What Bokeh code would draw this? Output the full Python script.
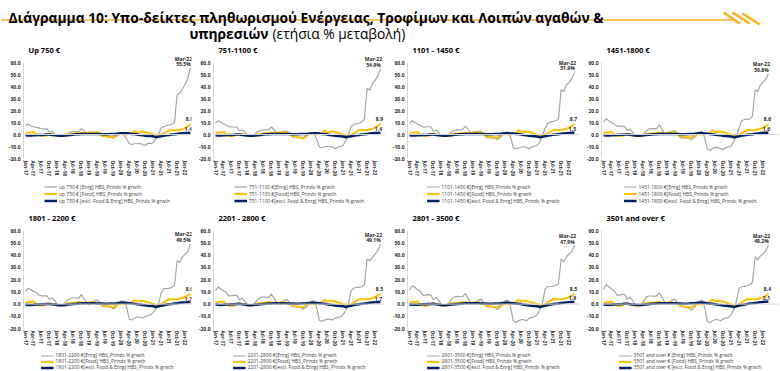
from bokeh.plotting import figure
from bokeh.models import Range1d, FixedTicker, NumeralTickFormatter, Legend, LegendItem, Label, Span
from bokeh.layouts import column, row
from bokeh.embed import file_html
from bokeh.resources import INLINE

# ---------------- data ----------------
tick_labels = ["Jan-17", "Apr-17", "Jul-17", "Oct-17", "Jan-18", "Apr-18", "Jul-18", "Oct-18",
               "Jan-19", "Apr-19", "Jul-19", "Oct-19", "Jan-20", "Apr-20", "Jul-20", "Oct-20",
               "Jan-21", "Apr-21", "Jul-21", "Oct-21", "Jan-22"]
last_month = "Mar-22"
y_ticks = [-20, -10, 0, 10, 20, 30, 40, 50, 60]
y_min, y_max = -20, 60

panel_titles = ["Up 750 €", "751-1100 €", "1101 - 1450 €", "1451-1800 €",
                "1801 - 2200 €", "2201 - 2800 €", "2801 - 3500 €", "3501 and over €"]
legend_prefixes = ["up 750 € ", "751-1100 €", "1101-1450 €", "1451-1800 €",
                   "1801-2200 €", "2201-2800 €", "2801-3500 €", "3501 and over € "]
series_suffixes = ["[Enrg] HBS_Prindx % grwth", "[Food] HBS_Prindx % grwth",
                   "[excl. Food & Enrg] HBS_Prindx % grwth"]

energy_1 = [7.5, 8.7, 7.4, 6.5, 6.0, 5.5, 5.0, 4.6, 5.0, 2.0, 2.7, 0.5,
            -0.8, -1.4, -1.0, 0.0, 1.0, 2.2, 2.5, 2.5, 2.7, 4.8, 3.3, 1.0,
            0.5, 1.6, 2.0, 2.0, -0.3, -1.6, -1.6, -1.6, -2.2, -3.0, -1.6, -0.3,
            0.5, -0.3, -3.5, -7.7, -8.2, -7.7, -7.7, -7.4, -8.5, -9.0, -7.4, -7.4,
            -6.8, -3.5, 0.5, 5.5, 6.5, 7.4, 8.0, 8.7, 10.0, 33.0, 34.7, 38.0,
            42.0, 47.0, 55.5]
energy_2 = [9.6, 11.6, 10.2, 9.0, 8.0, 6.6, 6.3, 6.3, 6.3, 3.0, 4.0, 2.2,
            -0.5, -1.4, -1.4, 0.8, 2.5, 3.6, 4.0, 4.0, 4.0, 6.5, 4.0, 1.4,
            0.5, 2.2, 3.0, 2.7, 0.0, -2.2, -2.2, -2.2, -2.4, -3.6, -2.0, 0.0,
            1.4, 0.8, -3.6, -10.2, -11.0, -10.2, -10.0, -10.0, -10.5, -11.8, -10.5, -10.0,
            -9.0, -5.0, 0.0, 6.5, 8.3, 9.0, 9.6, 10.5, 13.0, 38.6, 37.2, 42.7,
            45.0, 49.0, 54.9]
energy_3 = [9.3, 11.5, 10.0, 8.7, 8.0, 6.3, 6.3, 6.5, 6.5, 2.7, 3.8, 1.6,
            -1.0, -1.5, -1.5, 0.5, 2.5, 3.8, 4.1, 3.8, 4.4, 7.0, 4.6, 1.0,
            0.0, 1.6, 2.7, 2.7, 0.0, -2.7, -2.7, -2.7, -2.7, -4.4, -2.7, -0.5,
            1.6, 2.0, -2.2, -11.0, -12.0, -11.0, -10.4, -10.0, -11.0, -12.0, -10.4, -9.8,
            -9.0, -6.3, -0.8, 5.5, 9.3, 10.7, 11.0, 11.5, 12.6, 37.4, 36.0, 41.5,
            43.5, 46.5, 51.9]
energy_4 = [10.4, 13.1, 11.5, 10.1, 8.7, 7.1, 7.1, 7.1, 6.5, 3.3, 4.4, 1.9,
            -1.1, -1.6, -1.6, 0.5, 2.7, 4.6, 4.9, 4.9, 4.9, 8.2, 4.4, 0.5,
            0.0, 1.9, 3.0, 3.0, 0.0, -2.7, -2.7, -3.0, -3.0, -4.4, -3.0, -0.5,
            2.2, 2.7, -2.2, -12.0, -13.1, -11.7, -10.7, -10.9, -11.7, -12.6, -10.9, -10.4,
            -9.6, -5.7, -0.8, 6.0, 11.5, 12.6, 12.6, 13.1, 15.5, 37.4, 36.0, 41.5,
            44.0, 46.0, 50.8]
energy_5 = [10.4, 13.0, 11.7, 10.4, 9.6, 7.4, 6.8, 6.8, 6.8, 4.0, 5.0, 2.7,
            -0.8, -1.4, -0.8, 1.4, 3.3, 4.6, 5.2, 5.2, 4.6, 8.0, 4.0, 1.4,
            -0.5, 1.4, 2.7, 3.3, 1.4, -2.2, -2.0, -2.0, -2.0, -4.0, -2.2, 0.5,
            2.7, 2.2, -2.2, -12.3, -13.0, -11.5, -10.4, -11.0, -11.5, -10.0, -9.6, -8.8,
            -6.8, -4.0, 0.0, 9.0, 12.6, 12.6, 13.0, 13.5, 15.0, 35.5, 34.0, 38.5,
            41.0, 43.0, 49.5]
energy_6 = [11.0, 14.2, 12.3, 11.0, 9.6, 6.8, 6.8, 7.1, 7.1, 3.3, 4.9, 2.2,
            -0.5, -1.1, -0.8, 1.4, 4.1, 5.5, 6.0, 5.5, 5.5, 8.2, 4.9, 1.4,
            0.0, 1.9, 3.3, 3.6, 0.5, -2.2, -2.2, -2.2, -2.7, -4.1, -2.7, 0.0,
            2.2, 2.7, -2.2, -13.1, -14.2, -13.1, -12.3, -12.3, -13.1, -11.5, -10.9, -10.4,
            -8.7, -4.9, 0.5, 11.0, 13.1, 13.7, 13.7, 14.2, 15.8, 36.9, 35.5, 38.3,
            41.0, 43.7, 49.1]
energy_7 = [11.5, 15.0, 13.7, 11.7, 10.4, 7.4, 7.4, 7.7, 7.4, 3.8, 5.5, 2.7,
            -0.5, -1.4, -0.8, 1.4, 4.6, 6.0, 6.3, 6.0, 6.0, 8.7, 4.9, 1.4,
            0.0, 1.9, 3.3, 3.8, 0.5, -2.2, -2.2, -2.2, -2.7, -4.4, -2.7, 0.0,
            2.7, 3.3, -2.2, -13.7, -15.0, -13.7, -12.8, -12.8, -13.7, -11.5, -10.9, -10.4,
            -8.7, -4.9, 1.4, 12.3, 14.2, 14.2, 14.8, 15.3, 16.4, 36.9, 34.7, 38.8,
            41.0, 43.2, 47.9]
energy_8 = [12.0, 15.8, 14.2, 12.3, 10.9, 7.4, 7.4, 7.9, 7.6, 4.1, 5.5, 2.7,
            -0.5, -0.8, -0.5, 1.9, 5.5, 6.6, 6.6, 6.3, 6.8, 9.3, 5.5, 1.4,
            0.0, 2.2, 3.6, 3.8, 0.0, -2.2, -2.2, -2.5, -3.3, -4.9, -3.3, 0.0,
            2.2, 3.3, -2.2, -14.2, -15.3, -13.7, -12.8, -12.8, -13.7, -12.3, -11.5, -10.9,
            -8.7, -4.1, 2.7, 13.1, 14.2, 14.5, 15.0, 15.8, 17.8, 38.8, 36.0, 39.6,
            41.0, 43.7, 48.2]

food_1 = [1.5, 1.8, 1.8, 2.0, 0.5, -0.5, -1.0, -1.0, -0.8, 0.0, 0.5, 0.0,
          -1.0, -1.2, -1.0, -0.5, 0.3, 0.5, 0.5, 1.0, 1.0, 1.5, 1.0, 1.0,
          2.0, 2.0, 1.5, 2.0, 0.5, -1.0, -1.5, -2.0, -2.0, -2.0, -0.5, 0.5,
          0.5, 0.5, 0.0, 1.0, 1.0, 3.0, 1.5, 2.0, 2.5, 2.0, 1.5, 1.0,
          0.0, -0.5, -0.5, 0.0, 1.0, 2.0, 3.5, 3.5, 3.5, 3.5, 4.0, 4.5,
          5.5, 7.0, 8.9]
food_2 = [1.5, 1.8, 2.0, 2.0, 0.3, -0.8, -1.2, -1.0, -0.5, 0.2, 0.5, -0.2,
          -1.2, -1.2, -1.0, -0.3, 0.3, 0.6, 0.8, 1.0, 1.2, 1.5, 1.0, 1.0,
          2.0, 2.2, 1.5, 1.8, 0.3, -1.2, -1.8, -2.2, -2.5, -3.0, -1.0, 0.5,
          0.5, 0.3, 0.0, 1.0, 1.2, 3.5, 1.8, 2.2, 2.5, 2.0, 1.5, 0.8,
          0.0, -0.5, -0.8, 0.0, 1.0, 2.2, 3.8, 3.8, 3.6, 3.8, 4.2, 4.8,
          5.8, 7.2, 8.9]
food_3 = [1.5, 1.6, 1.8, 2.0, 0.2, -0.8, -1.2, -1.0, -0.5, 0.2, 0.4, -0.3,
          -1.2, -1.3, -1.1, -0.3, 0.4, 0.7, 0.8, 1.0, 1.2, 1.6, 1.1, 0.9,
          1.9, 2.1, 1.5, 1.7, 0.2, -1.3, -1.8, -2.2, -2.4, -2.8, -1.0, 0.4,
          0.4, 0.3, 0.0, 1.0, 1.3, 3.6, 1.9, 2.3, 2.6, 2.1, 1.5, 0.8,
          -0.1, -0.6, -0.9, 0.0, 1.1, 2.3, 3.8, 3.7, 3.6, 3.8, 4.2, 4.8,
          5.8, 7.0, 8.7]
food_4 = [1.6, 1.7, 1.8, 2.1, 0.2, -0.9, -1.3, -1.1, -0.4, 0.3, 0.4, -0.4,
          -1.3, -1.3, -1.1, -0.2, 0.4, 0.7, 0.9, 1.1, 1.3, 1.7, 1.1, 0.8,
          1.8, 2.0, 1.4, 1.6, 0.1, -1.4, -1.9, -2.2, -2.4, -2.7, -1.0, 0.3,
          0.3, 0.2, 0.0, 1.0, 1.4, 3.6, 1.9, 2.4, 2.6, 2.1, 1.4, 0.7,
          -0.2, -0.6, -1.0, 0.0, 1.1, 2.4, 3.9, 3.7, 3.6, 3.8, 4.2, 4.8,
          5.7, 6.9, 8.6]
food_5 = [1.5, 1.5, 2.0, 2.2, 0.0, -1.0, -1.2, -1.0, 0.0, 0.5, 0.0, -0.5,
          -1.2, -1.0, -1.0, 0.0, 0.5, 0.8, 1.0, 1.0, 1.5, 1.5, 1.0, 0.5,
          1.5, 1.8, 1.5, 1.0, 0.5, -1.0, -1.5, -2.0, -2.0, -2.5, -1.0, 0.0,
          0.0, 0.0, 0.0, 1.0, 1.5, 3.5, 2.0, 2.5, 2.5, 2.2, 1.5, 1.0,
          0.0, -0.5, -1.0, 0.0, 1.5, 2.5, 4.0, 4.0, 4.0, 4.0, 4.5, 5.0,
          6.0, 7.0, 8.6]
food_6 = [1.4, 1.5, 1.9, 2.2, -0.1, -1.1, -1.3, -1.1, 0.0, 0.5, 0.0, -0.6,
          -1.3, -1.1, -1.0, 0.1, 0.6, 0.8, 1.0, 1.1, 1.5, 1.6, 1.0, 0.5,
          1.4, 1.7, 1.4, 1.0, 0.4, -1.2, -1.7, -2.1, -2.2, -2.6, -1.1, 0.0,
          0.0, 0.0, -0.1, 1.0, 1.6, 3.6, 2.0, 2.5, 2.4, 2.1, 1.4, 0.9,
          -0.1, -0.6, -1.1, 0.0, 1.5, 2.6, 4.0, 3.9, 3.9, 4.0, 4.4, 4.9,
          5.9, 6.9, 8.5]
food_7 = [1.4, 1.5, 1.8, 2.1, -0.2, -1.1, -1.3, -1.1, 0.1, 0.6, 0.0, -0.6,
          -1.3, -1.2, -1.0, 0.1, 0.6, 0.9, 1.1, 1.1, 1.5, 1.6, 1.0, 0.4,
          1.3, 1.6, 1.3, 0.9, 0.3, -1.3, -1.8, -2.2, -2.3, -2.7, -1.2, -0.1,
          -0.1, -0.1, -0.1, 1.0, 1.6, 3.7, 2.0, 2.6, 2.4, 2.0, 1.3, 0.8,
          -0.2, -0.7, -1.2, 0.0, 1.6, 2.7, 4.1, 3.9, 3.9, 4.0, 4.4, 4.9,
          5.8, 6.8, 8.5]
food_8 = [1.3, 1.5, 1.8, 2.1, -0.2, -1.2, -1.4, -1.2, 0.1, 0.6, 0.0, -0.7,
          -1.4, -1.2, -1.1, 0.2, 0.7, 0.9, 1.1, 1.2, 1.6, 1.7, 1.0, 0.4,
          1.3, 1.6, 1.3, 0.9, 0.3, -1.3, -1.9, -2.3, -2.4, -2.8, -1.2, -0.1,
          -0.1, -0.2, -0.2, 1.0, 1.7, 3.8, 2.1, 2.6, 2.4, 2.0, 1.3, 0.7,
          -0.3, -0.7, -1.3, 0.0, 1.6, 2.8, 4.1, 4.0, 3.9, 4.0, 4.4, 4.8,
          5.7, 6.7, 8.4]

core_1 = [-0.5, -0.8, -0.8, -0.5, -0.5, -0.3, -0.3, -0.2, 0.0, 0.0, -0.3, -0.5,
          -0.8, -1.0, -1.0, -0.8, -0.5, -0.3, 0.0, 0.2, 0.3, 0.5, 0.5, 0.5,
          0.5, 0.5, 0.5, 0.5, 0.5, 0.3, 0.3, 0.3, 0.5, 0.5, 0.5, 0.8,
          1.0, 1.0, 1.0, 0.8, 0.5, 0.5, 0.0, -0.3, -0.5, -1.0, -1.2, -1.3,
          -1.5, -2.2, -1.8, -1.5, -1.0, -0.5, -0.3, 0.0, 0.2, 0.5, 0.8, 1.0,
          1.2, 1.3, 1.4]
core_2 = [-0.6, -0.8, -0.8, -0.6, -0.5, -0.4, -0.3, -0.2, 0.0, 0.0, -0.3, -0.5,
          -0.8, -1.0, -1.0, -0.8, -0.5, -0.3, 0.0, 0.2, 0.3, 0.4, 0.5, 0.5,
          0.5, 0.5, 0.5, 0.5, 0.4, 0.3, 0.3, 0.3, 0.4, 0.5, 0.5, 0.7,
          0.9, 1.0, 1.0, 0.8, 0.5, 0.4, 0.0, -0.3, -0.6, -1.0, -1.2, -1.4,
          -1.6, -2.2, -1.8, -1.5, -1.0, -0.6, -0.3, 0.0, 0.2, 0.5, 0.8, 1.0,
          1.2, 1.3, 1.4]
core_3 = [-0.5, -0.8, -0.8, -0.6, -0.5, -0.3, -0.3, -0.2, 0.0, 0.0, -0.3, -0.5,
          -0.8, -1.0, -1.0, -0.7, -0.5, -0.2, 0.0, 0.2, 0.3, 0.5, 0.5, 0.5,
          0.5, 0.6, 0.5, 0.5, 0.5, 0.3, 0.3, 0.3, 0.4, 0.5, 0.5, 0.8,
          1.0, 1.0, 0.9, 0.8, 0.5, 0.4, 0.0, -0.3, -0.6, -1.0, -1.2, -1.4,
          -1.6, -2.3, -1.8, -1.4, -1.0, -0.5, -0.2, 0.0, 0.3, 0.6, 0.9, 1.1,
          1.3, 1.4, 1.5]
core_4 = [-0.5, -0.7, -0.8, -0.6, -0.5, -0.3, -0.2, -0.1, 0.0, 0.1, -0.2, -0.5,
          -0.8, -1.0, -0.9, -0.7, -0.4, -0.2, 0.0, 0.2, 0.3, 0.5, 0.6, 0.5,
          0.5, 0.6, 0.5, 0.5, 0.5, 0.3, 0.3, 0.3, 0.4, 0.5, 0.6, 0.8,
          1.0, 1.0, 0.9, 0.7, 0.4, 0.3, -0.1, -0.4, -0.6, -1.0, -1.3, -1.4,
          -1.6, -2.3, -1.8, -1.4, -0.9, -0.5, -0.2, 0.1, 0.3, 0.6, 0.9, 1.2,
          1.4, 1.5, 1.6]
core_5 = [-0.4, -0.7, -0.7, -0.6, -0.4, -0.3, -0.2, -0.1, 0.1, 0.1, -0.2, -0.4,
          -0.7, -0.9, -0.9, -0.7, -0.4, -0.2, 0.1, 0.2, 0.4, 0.5, 0.6, 0.6,
          0.5, 0.6, 0.6, 0.5, 0.5, 0.4, 0.3, 0.3, 0.4, 0.5, 0.6, 0.8,
          1.0, 1.1, 0.9, 0.7, 0.4, 0.3, -0.1, -0.4, -0.7, -1.0, -1.3, -1.5,
          -1.6, -2.4, -1.8, -1.3, -0.9, -0.4, -0.1, 0.1, 0.4, 0.7, 1.0, 1.2,
          1.4, 1.6, 1.7]
core_6 = [-0.4, -0.6, -0.7, -0.5, -0.4, -0.3, -0.2, -0.1, 0.1, 0.2, -0.2, -0.4,
          -0.7, -0.9, -0.8, -0.6, -0.4, -0.1, 0.1, 0.3, 0.4, 0.5, 0.6, 0.6,
          0.5, 0.6, 0.6, 0.5, 0.5, 0.4, 0.3, 0.3, 0.4, 0.5, 0.6, 0.8,
          1.0, 1.1, 0.9, 0.7, 0.4, 0.2, -0.2, -0.5, -0.7, -1.1, -1.3, -1.5,
          -1.7, -2.4, -1.8, -1.3, -0.8, -0.4, -0.1, 0.2, 0.4, 0.7, 1.0, 1.3,
          1.4, 1.6, 1.7]
core_7 = [-0.4, -0.6, -0.6, -0.5, -0.4, -0.2, -0.1, 0.0, 0.1, 0.2, -0.1, -0.4,
          -0.7, -0.9, -0.8, -0.6, -0.3, -0.1, 0.1, 0.3, 0.4, 0.6, 0.6, 0.6,
          0.6, 0.6, 0.6, 0.5, 0.5, 0.4, 0.3, 0.3, 0.4, 0.5, 0.6, 0.9,
          1.1, 1.1, 0.9, 0.7, 0.3, 0.2, -0.2, -0.5, -0.8, -1.1, -1.4, -1.6,
          -1.7, -2.5, -1.8, -1.3, -0.8, -0.3, 0.0, 0.3, 0.5, 0.8, 1.1, 1.4,
          1.6, 1.8, 1.9]
core_8 = [-0.3, -0.6, -0.6, -0.5, -0.3, -0.2, -0.1, 0.0, 0.2, 0.2, -0.1, -0.3,
          -0.6, -0.8, -0.8, -0.6, -0.3, -0.1, 0.2, 0.3, 0.5, 0.6, 0.7, 0.6,
          0.6, 0.7, 0.6, 0.6, 0.5, 0.4, 0.3, 0.3, 0.4, 0.6, 0.7, 0.9,
          1.1, 1.2, 1.0, 0.7, 0.3, 0.2, -0.2, -0.6, -0.8, -1.2, -1.4, -1.6,
          -1.8, -2.5, -1.8, -1.2, -0.7, -0.3, 0.1, 0.4, 0.6, 0.9, 1.2, 1.5,
          1.7, 1.9, 2.1]

energy_all = [energy_1, energy_2, energy_3, energy_4, energy_5, energy_6, energy_7, energy_8]
food_all = [food_1, food_2, food_3, food_4, food_5, food_6, food_7, food_8]
core_all = [core_1, core_2, core_3, core_4, core_5, core_6, core_7, core_8]

# ---------------- layout / styling ----------------
FONT = "Open Sans"
C_ENRG = "#a6a6a6"
C_FOOD = "#ffc000"
C_CORE = "#002060"
C_ORANGE = "#f7b21b"
TXT = "#262626"
LEG_TXT = "#404040"
COL_W = [192, 194, 194, 200]      # widths of the four panel columns
COL_BL = [23, 21, 21, 21]         # left border (room for y labels)
PX_PER_MONTH = 2.66
Y_TOP = 66   # head-room above the 60 tick for the end labels
B_BOTTOM = 24


def make_chart(i, top_row):
    e, f, c = energy_all[i], food_all[i], core_all[i]
    col = i % 4
    w, bl = COL_W[col], COL_BL[col]
    frame_w = w - bl - 1
    x0 = -2 / PX_PER_MONTH
    p = figure(width=w, height=140 if top_row else 147,
               output_backend="svg", toolbar_location=None,
               x_range=Range1d(x0, x0 + frame_w / PX_PER_MONTH), y_range=Range1d(y_min, Y_TOP),
               min_border_left=bl, min_border_right=1,
               min_border_top=12 if top_row else 18, min_border_bottom=B_BOTTOM)
    p.outline_line_color = None
    p.xgrid.visible = False
    p.ygrid.visible = False

    p.title.text = panel_titles[i]
    p.title.text_font = FONT
    p.title.text_font_size = "7.5px"
    p.title.text_font_style = "bold"
    p.title.text_color = "#000000"
    p.title.offset = 5
    p.title.standoff = 1

    p.yaxis.ticker = FixedTicker(ticks=y_ticks)
    p.yaxis.bounds = (y_min, y_max)
    p.yaxis.formatter = NumeralTickFormatter(format="0.0")
    p.yaxis.major_label_text_font = FONT
    p.yaxis.major_label_text_font_size = "5px"
    p.yaxis.major_label_text_font_style = "bold"
    p.yaxis.major_label_text_color = TXT
    p.yaxis.axis_line_color = "#d9d9d9"
    p.yaxis.major_tick_line_color = None
    p.yaxis.minor_tick_line_color = None
    p.yaxis.major_tick_out = 0
    p.yaxis.minor_tick_out = 0
    p.yaxis.major_label_standoff = 3

    x_tick_pos = list(range(0, 3 * len(tick_labels), 3))
    p.xaxis.ticker = FixedTicker(ticks=x_tick_pos)
    p.xaxis.major_label_overrides = {t: lbl for t, lbl in zip(x_tick_pos, tick_labels)}
    p.xaxis.major_label_orientation = "vertical"
    p.xaxis.major_label_text_font = FONT
    p.xaxis.major_label_text_font_size = "4.8px"
    p.xaxis.major_label_text_font_style = "bold"
    p.xaxis.major_label_text_color = TXT
    p.xaxis.axis_line_color = None
    p.xaxis.major_tick_line_color = None
    p.xaxis.minor_tick_line_color = None
    p.xaxis.major_tick_out = 0
    p.xaxis.minor_tick_out = 0
    p.xaxis.major_label_standoff = 2

    p.add_layout(Span(location=0, dimension="width", line_color="#d9d9d9", line_width=1))

    p.line(list(range(len(e))), e, line_color=C_ENRG, line_width=1.2)
    p.line(list(range(len(f))), f, line_color=C_FOOD, line_width=2)
    p.line(list(range(len(c))), c, line_color=C_CORE, line_width=2.5)

    xl = len(e) - 1
    common = dict(text_font=FONT, text_font_size="5px", text_color=TXT,
                  text_align="center", text_baseline="bottom", text_font_style="bold")
    p.add_layout(Label(x=xl, y=e[-1], text=last_month, x_offset=-7, y_offset=6.5, **common))
    p.add_layout(Label(x=xl, y=e[-1], text=f"{e[-1]:.1f}%", x_offset=-7, y_offset=1, **common))
    p.add_layout(Label(x=xl, y=f[-1], text=f"{f[-1]:.1f}", x_offset=-1, y_offset=3, **common))
    p.add_layout(Label(x=xl, y=c[-1], text=f"{c[-1]:.1f}", x_offset=-2, y_offset=1.5, **common))
    return p


def make_legend(i, top_row):
    # The legend lives in its own strip under the month labels. The strip's
    # value range lies far above the data, so the series it carries (which
    # feed the legend swatches) are clipped out of view.
    e, f, c = energy_all[i], food_all[i], core_all[i]
    q = figure(width=COL_W[i % 4], height=23 if top_row else 18, title=None,
               output_backend="svg", toolbar_location=None,
               x_range=Range1d(0, 62), y_range=Range1d(1000, 1001),
               x_axis_location=None, y_axis_location=None, min_border=0)
    q.outline_line_color = None
    q.xgrid.visible = False
    q.ygrid.visible = False
    r_e = q.line(list(range(len(e))), e, line_color=C_ENRG, line_width=1.2)
    r_f = q.line(list(range(len(f))), f, line_color=C_FOOD, line_width=2)
    r_c = q.line(list(range(len(c))), c, line_color=C_CORE, line_width=2.5)
    items = [LegendItem(label=legend_prefixes[i] + series_suffixes[0], renderers=[r_e]),
             LegendItem(label=legend_prefixes[i] + series_suffixes[1], renderers=[r_f]),
             LegendItem(label=legend_prefixes[i] + series_suffixes[2], renderers=[r_c])]
    leg = Legend(items=items, location="center", orientation="vertical",
                 label_text_font=FONT, label_text_font_size="4.9px", label_text_color=LEG_TXT,
                 glyph_width=13, glyph_height=5, label_height=5, label_standoff=2,
                 spacing=1 if top_row else 0, padding=0, margin=0, border_line_color=None,
                 background_fill_alpha=0)
    q.add_layout(leg)
    return q


def make_panel(i, top_row):
    return column(make_chart(i, top_row), make_legend(i, top_row))


# ---------------- title strip ----------------
TW, TH = sum(COL_W), 42
t = figure(width=TW, height=TH, title=None, output_backend="svg", toolbar_location=None,
           x_range=Range1d(0, TW), y_range=Range1d(0, TH),
           x_axis_location=None, y_axis_location=None, min_border=0)
t.outline_line_color = None
t.xgrid.visible = False
t.ygrid.visible = False
t.segment(x0=[0], y0=[22.5], x1=[732], y1=[22.5], line_color=C_ORANGE, line_width=1.5)
t.segment(x0=[723, 732, 742], y0=[30, 30, 29], x1=[739, 749, 759], y1=[19, 19, 18],
          line_color=C_ORANGE, line_width=2.6)
title_style = dict(text_font=FONT, text_font_size="13.8px", text_color="#000000",
                   text_baseline="alphabetic")
t.add_layout(Label(x=8, y=25.5, text="Διάγραμμα 10: Υπο-δείκτες πληθωρισμού Ενέργειας, Τροφίμων και Λοιπών αγαθών &",
                   text_font_style="bold", text_align="left", **title_style))
t.add_layout(Label(x=268, y=9, text="υπηρεσιών",
                   text_font_style="bold", text_align="right", **title_style))
t.add_layout(Label(x=272, y=9, text="(ετήσια % μεταβολή)",
                   text_font_style="normal", text_align="left", **title_style))

top = row(*[make_panel(i, True) for i in range(4)])
bottom = row(*[make_panel(i, False) for i in range(4, 8)])
layout = column(t, top, bottom)

open("out.html", "w").write(file_html(layout, INLINE))
